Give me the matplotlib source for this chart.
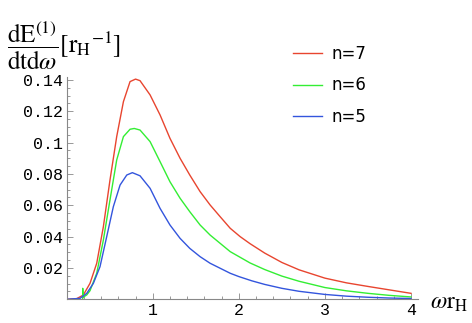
import matplotlib
matplotlib.use("Agg")
import matplotlib.pyplot as plt
from matplotlib.ticker import MultipleLocator, FixedLocator

# Data
x_red = [0.0, 0.116, 0.193, 0.271, 0.349, 0.426, 0.503, 0.581, 0.659, 0.736, 0.80, 0.852,
         0.969, 1.085, 1.2, 1.317, 1.43, 1.55, 1.666, 1.783, 1.9, 2.015, 2.13, 2.3, 2.5,
         2.7, 3.0, 3.25, 3.5, 3.75, 4.0]
y_red = [0.0, 0.0004, 0.0027, 0.0102, 0.023, 0.0463, 0.0761, 0.1038, 0.1261, 0.1389, 0.1405,
         0.1395, 0.1304, 0.1176, 0.1027, 0.090, 0.0793, 0.0687, 0.0602, 0.0527, 0.0453, 0.040,
         0.0355, 0.0295, 0.0235, 0.0188, 0.0135, 0.0105, 0.0082, 0.006, 0.0038]

x_green = [0.186, 0.186, 0.19, 0.233, 0.271, 0.349, 0.426, 0.503, 0.581, 0.659, 0.736, 0.785,
           0.852, 0.969, 1.085, 1.2, 1.317, 1.43, 1.55, 1.666, 1.783, 1.9, 2.015, 2.13, 2.3,
           2.5, 2.7, 3.0, 3.25, 3.5, 3.75, 4.0]
y_green = [0.0, 0.007, 0.0012, 0.0028, 0.0055, 0.0166, 0.0378, 0.0634, 0.0889, 0.1038, 0.1085,
           0.109, 0.108, 0.1006, 0.0878, 0.075, 0.0645, 0.0559, 0.0474, 0.041, 0.0357, 0.0304,
           0.0268, 0.0232, 0.019, 0.0148, 0.0115, 0.0075, 0.0054, 0.0038, 0.0025, 0.0015]

x_blue = [0.0, 0.155, 0.233, 0.31, 0.387, 0.465, 0.542, 0.62, 0.698, 0.763, 0.852, 0.969,
          1.085, 1.2, 1.317, 1.43, 1.55, 1.666, 1.783, 1.9, 2.0, 2.15, 2.3, 2.5, 2.7, 3.0,
          3.25, 3.5, 3.75, 4.0]
y_blue = [0.0, 0.0006, 0.0038, 0.0102, 0.0208, 0.040, 0.0591, 0.0729, 0.0793, 0.0808, 0.0788,
          0.0708, 0.058, 0.0474, 0.0389, 0.0325, 0.0272, 0.023, 0.0198, 0.0166, 0.0145, 0.0118,
          0.0095, 0.0070, 0.0051, 0.0031, 0.0020, 0.0013, 0.0008, 0.0005]

labels = ["n=7", "n=6", "n=5"]
x_ticks = [1, 2, 3, 4]
y_ticks = [0.02, 0.04, 0.06, 0.08, 0.10, 0.12, 0.14]
y_tick_labels = ["0.02", "0.04", "0.06", "0.08", "0.1", "0.12", "0.14"]

colors = ["#E8452F", "#33EE33", "#3355DD"]

plt.rcParams["mathtext.fontset"] = "stix"

fig = plt.figure(figsize=(4.72, 3.23), dpi=100)
ax = fig.add_axes([0.1413, 0.0734, 0.744, 0.688])

for xs, ys, c, lab in [(x_red, y_red, colors[0], labels[0]),
                       (x_green, y_green, colors[1], labels[1]),
                       (x_blue, y_blue, colors[2], labels[2])]:
    ax.plot(xs, ys, color=c, lw=1.0, label=lab, solid_joinstyle="round")

ax.set_xlim(0, 4.08)
ax.set_ylim(0, 0.1418)
for s in ["top", "right"]:
    ax.spines[s].set_visible(False)
for s in ["left", "bottom"]:
    ax.spines[s].set_color("#888888")
    ax.spines[s].set_linewidth(0.8)

ax.xaxis.set_major_locator(FixedLocator(x_ticks))
ax.xaxis.set_minor_locator(MultipleLocator(0.2))
ax.yaxis.set_major_locator(FixedLocator(y_ticks))
ax.yaxis.set_minor_locator(MultipleLocator(0.005))
ax.set_yticklabels(y_tick_labels)
ax.tick_params(which="both", direction="in", color="#888888", width=0.6)
ax.tick_params(which="major", length=4)
ax.tick_params(which="minor", length=2)
for lbl in ax.get_xticklabels() + ax.get_yticklabels():
    lbl.set_fontfamily("Liberation Mono")
    lbl.set_fontsize(12)
ax.tick_params(axis="y", pad=3)
ax.tick_params(axis="x", pad=3)

leg = ax.legend(loc="upper left", bbox_to_anchor=(293 / 472, 1 - 45 / 323),
                bbox_transform=fig.transFigure, frameon=False,
                handlelength=1.75, handletextpad=0.55, labelspacing=0.8,
                borderpad=0, borderaxespad=0,
                prop={"family": "DejaVu Sans", "size": 12})
for line in leg.get_lines():
    line.set_linewidth(1.0)

fig.text(0.015, 1 - 53 / 323,
         r"$\dfrac{\mathrm{dE}^{(1)}}{\mathrm{dtd}\omega}[\mathrm{r_H}^{-1}]$",
         fontsize=18, ha="left", va="baseline")
fig.text(0.91, 0.065, r"$\omega\mathrm{r_H}$", fontsize=17, ha="left", va="center")

fig.savefig("out.png", dpi=100)
